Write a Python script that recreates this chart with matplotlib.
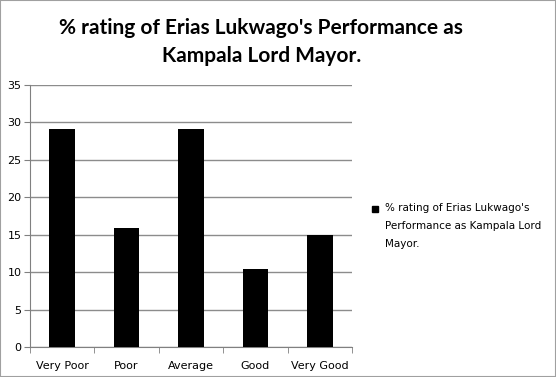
import matplotlib
matplotlib.use("Agg")
import matplotlib.pyplot as plt
import numpy as np
from matplotlib.patches import Rectangle

categories = ["Very Poor", "Poor", "Average", "Good", "Very Good"]
values = [29.1, 15.9, 29.1, 10.45, 15.0]
yticks = [0, 5, 10, 15, 20, 25, 30, 35]
series_name = "% rating of Erias Lukwago's\nPerformance as Kampala Lord\nMayor."
title = "% rating of Erias Lukwago's Performance as\nKampala Lord Mayor."

W, H = 556, 377
fig = plt.figure(figsize=(W / 100, H / 100), dpi=100)
fig.patch.set_facecolor("white")
fig.patches.append(Rectangle((0, 0), 1, 1, transform=fig.transFigure, fill=False,
                             edgecolor="#a0a0a0", linewidth=1.5))

ax = fig.add_axes([30 / W, 1 - 347.3 / H, (352 - 30) / W, (347.3 - 85) / H])
x = np.arange(len(categories))
ax.bar(x, values, width=0.4, color="black", zorder=3)
ax.set_xlim(-0.5, len(categories) - 0.5)
ax.set_ylim(0, 35)
ax.set_yticks(yticks)
ax.set_yticklabels([str(t) for t in yticks], fontsize=8, family="DejaVu Sans")
ax.set_xticks(x)
ax.set_xticklabels(categories, fontsize=8, family="DejaVu Sans")
ax.tick_params(axis="x", length=0, pad=10)
ax.set_xticks(np.arange(-0.5, len(categories)), minor=True)
ax.tick_params(axis="x", which="minor", length=4, color="#808080", direction="out")
ax.tick_params(axis="y", length=4, color="#808080", direction="out", pad=2)
ax.grid(axis="y", color="#8c8c8c", linewidth=1, zorder=0)
for s in ["top", "right"]:
    ax.spines[s].set_visible(False)
for s in ["left", "bottom"]:
    ax.spines[s].set_color("#808080")

fig.text(0.47, 1 - 42 / H, title, ha="center", va="center", fontsize=15,
         fontweight="bold", family="Lato", linespacing=1.5)

fig.patches.append(Rectangle((372 / W, 1 - 212 / H), 6.5 / W, 6.5 / H,
                             transform=fig.transFigure, color="black"))
fig.text(385 / W, 1 - 203 / H, series_name, ha="left", va="top", fontsize=7.5,
         family="DejaVu Sans", linespacing=2.0)

fig.savefig("out.png", dpi=100)
